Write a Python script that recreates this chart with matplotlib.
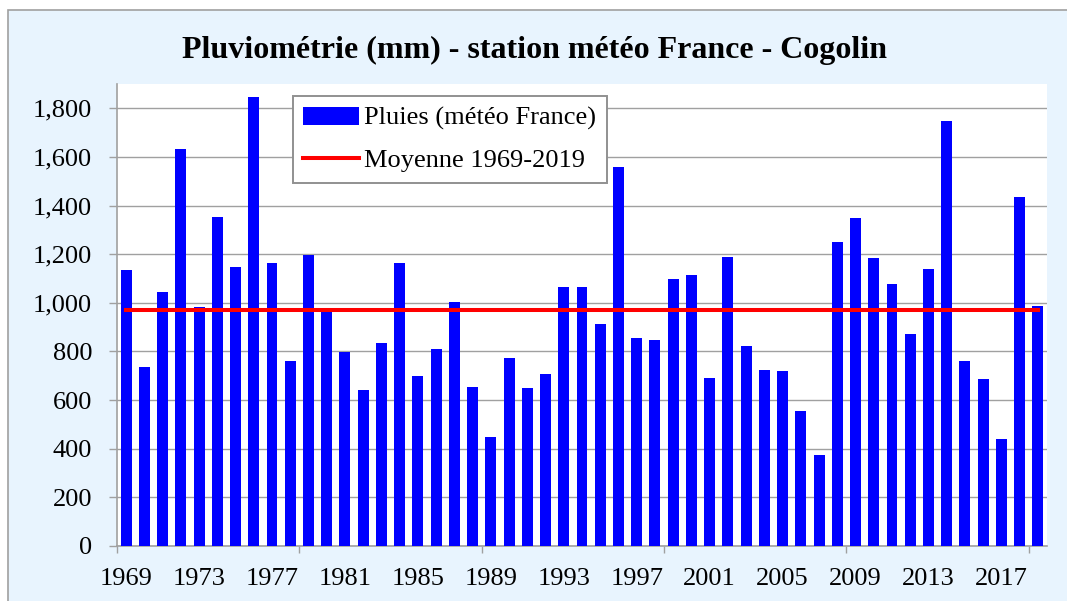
import numpy as np
import matplotlib
matplotlib.use('Agg')
import matplotlib.pyplot as plt
from matplotlib.patches import Rectangle
from matplotlib.ticker import FuncFormatter

# Annual rainfall (mm), Cogolin, 1969-2019
years = list(range(1969, 2020))
rain = [1136, 738, 1044, 1634, 984, 1354, 1146, 1845, 1162, 759,
        1198, 966, 797, 641, 836, 1165, 700, 812, 1003, 654,
        449, 774, 649, 708, 1067, 1067, 914, 1557, 855, 848,
        1096, 1113, 691, 1190, 823, 724, 720, 554, 375, 1251,
        1350, 1183, 1078, 870, 1139, 1748, 761, 687, 438, 1434,
        988]
mean_rain = 969
label_years = years[::4]

plt.rcParams['font.family'] = ['Liberation Serif', 'DejaVu Serif']

fig = plt.figure(figsize=(10.67, 6.01), dpi=100)
fig.patch.set_facecolor('white')

# light blue chart area with grey border (clipped at right/bottom)
bg = Rectangle((7.5 / 1067, -0.1), 1.2, (601 - 9.5) / 601 + 0.1,
               transform=fig.transFigure, facecolor='#E8F4FE',
               edgecolor='#A0A0A0', linewidth=1.2, zorder=-10)
fig.patches.append(bg)

ax = fig.add_axes([117 / 1067, 55 / 601, 930 / 1067, 462 / 601])
ax.set_zorder(1)
ax.set_facecolor('white')

x = np.arange(len(years))
bars = ax.bar(x, rain, width=0.6, color='#0000FF', zorder=3)
line, = ax.plot([x[0], x[-1]], [mean_rain, mean_rain], color='#FF0000',
                lw=2.9, zorder=4)

ax.set_xlim(-0.5, len(years) - 0.5)
ax.set_ylim(0, 1900)

ax.set_yticks(range(0, 1801, 200))
ax.yaxis.set_major_formatter(FuncFormatter(lambda v, p: f'{int(v):,}'))
ax.grid(True, axis='y', color='#A0A0A0', lw=1.0, zorder=1)
ax.set_axisbelow(True)

# labels every 4 years, tick marks every 10 categories on boundaries
ax.set_xticks([years.index(y) for y in label_years])
ax.set_xticklabels([str(y) for y in label_years])
ax.set_xticks(np.arange(-0.5, len(years), 10), minor=True)
ax.tick_params(axis='x', which='major', length=0, pad=16, labelsize=19)
ax.tick_params(axis='x', which='minor', length=5, color='#A0A0A0', width=1.0)
ax.tick_params(axis='y', length=6, color='#A0A0A0', width=1.0, pad=12,
               labelsize=19)

for s in ['top', 'right']:
    ax.spines[s].set_visible(False)
for s in ['left', 'bottom']:
    ax.spines[s].set_color('#A0A0A0')
    ax.spines[s].set_linewidth(1.2)

fig.text(535 / 1067, 1 - 50 / 601,
         'Pluviométrie (mm) - station météo France - Cogolin',
         ha='center', va='center', fontsize=23, fontweight='bold')

leg = ax.legend([bars, line], ['Pluies (météo France)', 'Moyenne 1969-2019'],
                loc='upper left', bbox_to_anchor=(0.189, 0.974),
                borderaxespad=0, fontsize=19, fancybox=False,
                edgecolor='#909090', framealpha=1, handlelength=2.1,
                handletextpad=0.2, labelspacing=0.7, borderpad=0.4)
leg.get_frame().set_linewidth(1.4)

fig.savefig('out.png', dpi=100)
